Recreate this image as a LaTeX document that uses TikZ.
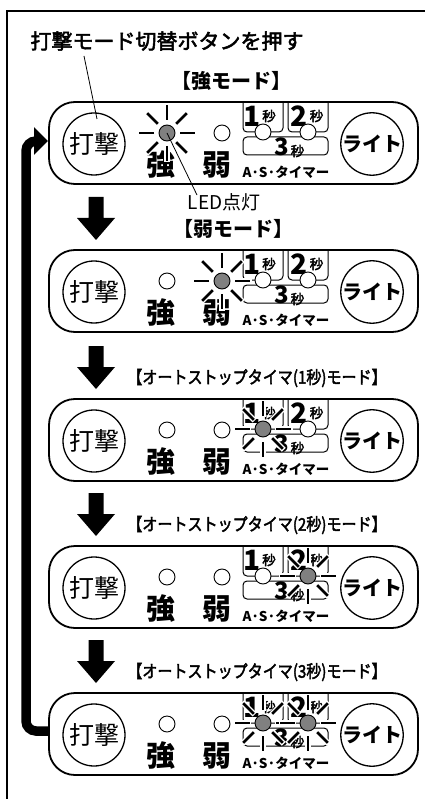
\documentclass[tikz,border=0pt]{standalone}
\usepackage{fontspec}
\newfontfamily\jp{Noto Sans CJK JP}
\newfontfamily\jpm[FakeBold=2.5]{Noto Sans CJK JP}
\usetikzlibrary{arrows.meta}
\definecolor{ledgray}{RGB}{128,128,128}
\newcommand\jpfs[1]{\fontsize{#1}{#1}\selectfont}
\tikzset{
  every node/.style={inner sep=0pt, outer sep=0pt},
  titletxt/.style={font=\jpm\jpfs{21}},
  hdr/.style={font=\jp\bfseries\jpfs{20}},
  hdrlong/.style={font=\jpm\jpfs{17.5}},
  btn/.style={circle, draw, line width=1.3pt, minimum size=62pt, font=\jp\jpfs{25}},
  btnb/.style={btn, font=\jp\bfseries\jpfs{20}},
  kanji/.style={font=\jp\bfseries\jpfs{29}},
  dig/.style={font=\jp\bfseries\jpfs{28}},
  digc/.style={font=\jp\bfseries\jpfs{24}},
  sec/.style={font=\jpm\jpfs{13.5}},
  ast/.style={font=\jp\bfseries\jpfs{13.5}},
  ledtxt/.style={font=\jp\jpfs{19}},
  panelline/.style={line width=1.8pt, rounded corners=26pt},
  boxline/.style={line width=1pt, rounded corners=4pt},
  ledoff/.style={circle, draw, line width=0.9pt, fill=white, minimum size=16pt},
  ledon/.style={ledoff, fill=ledgray},
  leader/.style={line width=0.8pt},
}
\newcommand\rays[2]{%
  \foreach \a in {0,45,...,315}{\draw[white, line width=5.5pt] (#1,#2) ++(\a:12) -- ++(\a:17.5);}
  \foreach \a in {0,45,...,315}{\draw[line width=2.8pt] (#1,#2) ++(\a:13) -- ++(\a:15);}
}
\newcommand\led[4]{% x, y, flag, name
  \ifnum#3=1 \rays{#1}{#2}\node[ledon] (#4) at (#1,#2) {};%
  \else \node[ledoff] (#4) at (#1,#2) {};\fi}
\newcommand\drawpanel[6]{%
\begin{scope}[shift={(0,#2)}]
  \draw[panelline, fill=white] (49,-41) rectangle (418,41);
  \node[btn] (#1hit) at (94,1) {打撃};
  \node[btnb] (#1light) at (372,1) {ライト};
  \draw[boxline] (243,-41) -- (243,-11) -- (283,-11) -- (283,-41);
  \draw[boxline] (288,-41) -- (288,-11) -- (328,-11) -- (328,-41);
  \draw[boxline] (243,-6) -- (243,12) -- (328,12) -- (328,-6) -- cycle;
  \node[dig] (#1da) at (252,-27) {1};
  \node[sec] (#1sa) at (269,-27) {秒};
  \node[dig] (#1db) at (299.5,-27) {2};
  \node[sec] (#1sb) at (316.5,-27) {秒};
  \node[digc] (#1dc) at (281.5,4) {3};
  \node[sec] (#1sc) at (297.5,8) {秒};
  \node[ast] (#1ast) at (286,29) {A·S·タイマー};
  \node[kanji] (#1strong) at (161,21.5) {強};
  \node[kanji] (#1weak) at (217,21.5) {弱};
  \led{167}{-10}{#3}{#1ledS}
  \led{222}{-10}{#4}{#1ledW}
  \led{263}{-11}{#5}{#1ledA}
  \led{308}{-11}{#6}{#1ledB}
\end{scope}}
\newcommand\blockarrow[2]{%
\begin{scope}[shift={(0,#1)}]
  \fill (88.5,0) -- (103.5,0) -- (103.5,21) -- (115,21) -- (96,43) -- (77,21) -- (88.5,21) -- cycle;
  \coordinate (#2) at (96,43);
\end{scope}}
\begin{document}
\begin{tikzpicture}[x=1pt, y=-1pt]
\path[use as bounding box] (0,0) rectangle (425,799);
\draw[line width=1.8pt] (7,799) -- (7,11) -- (425,11);

\coordinate (loopb) at (49,731);
\coordinate (loopt) at (48,141);
\draw[line width=9.5pt, rounded corners=10pt, -{Triangle[length=14pt,width=27pt]}]
  (loopb) -- (26,731) -- (26,141) -- (loopt);

\node[titletxt] (title) at (167,41) {打撃モード切替ボタンを押す};
\node[hdr] (h1) at (231,81) {【強モード】};
\drawpanel{p1}{143}{1}{0}{0}{0}
\node[ledtxt] (ledl) at (224,202) {LED点灯};

\blockarrow{197}{a2}
\node[hdr] (h2) at (233,229) {【弱モード】};
\drawpanel{p2}{291}{0}{1}{0}{0}

\blockarrow{346}{a3}
\node[hdrlong] (h3) at (257,378) {\scalebox{0.86}[1]{【オートストップタイマ(1秒)モード】}};
\drawpanel{p3}{440}{0}{0}{1}{0}

\blockarrow{493}{a4}
\node[hdrlong] (h4) at (257,525) {\scalebox{0.86}[1]{【オートストップタイマ(2秒)モード】}};
\drawpanel{p4}{587}{0}{0}{0}{1}

\blockarrow{640}{a5}
\node[hdrlong] (h5) at (257,672) {\scalebox{0.86}[1]{【オートストップタイマ(3秒)モード】}};
\drawpanel{p5}{734}{0}{0}{1}{1}

\coordinate (tl) at (84,56);
\coordinate (tle) at (97,119);
\draw[leader] (tl) -- (tle);
\coordinate (ledle) at (197,195);
\draw[leader] (p1ledS.center) -- (ledle);
\end{tikzpicture}
\end{document}
